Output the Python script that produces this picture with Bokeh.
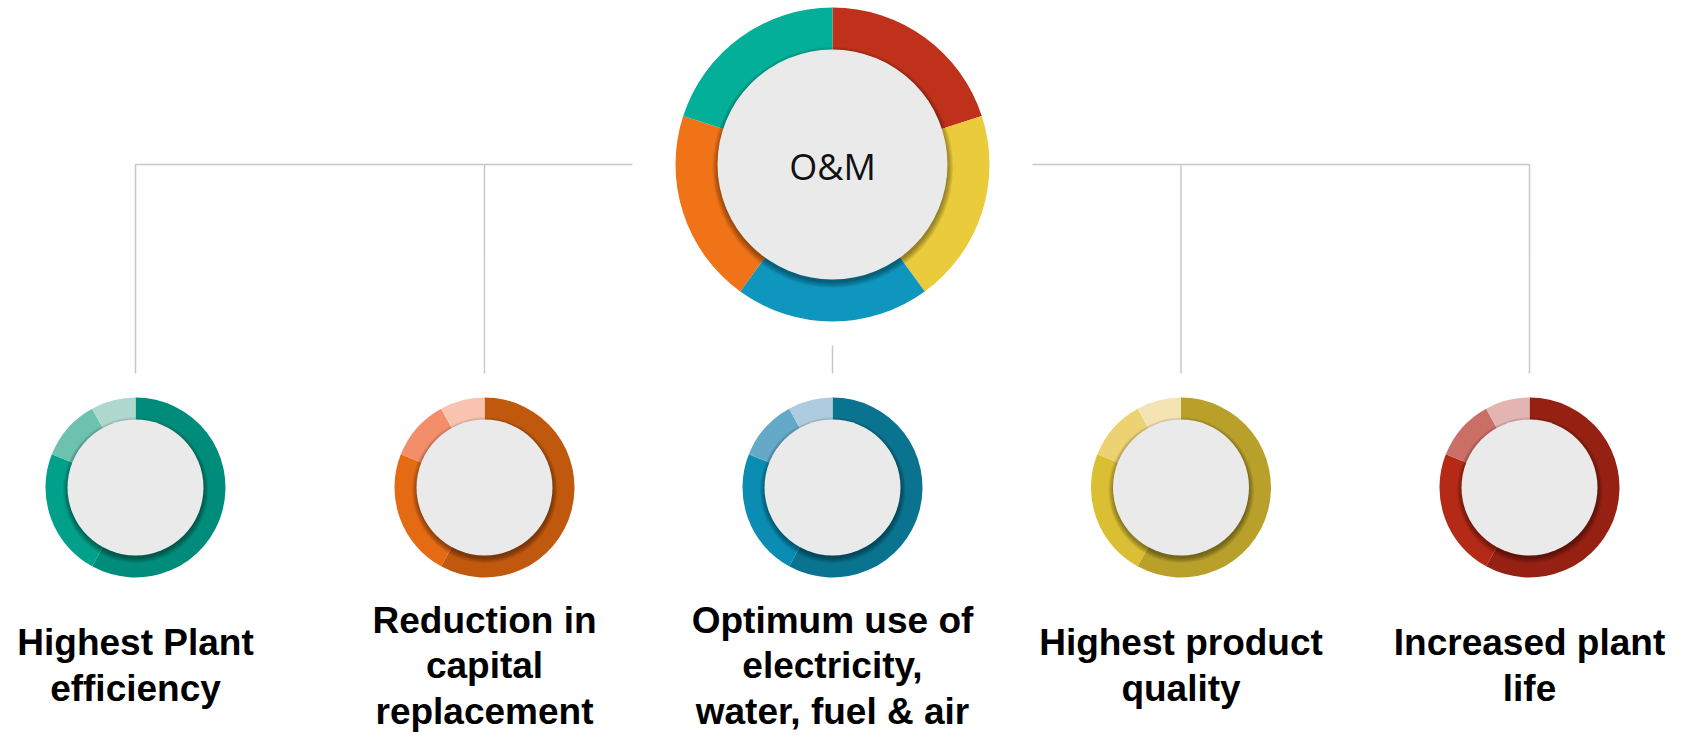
from bokeh.plotting import figure
from bokeh.models import Range1d, ColumnDataSource
from bokeh.core.properties import value
from bokeh.embed import file_html
from bokeh.resources import INLINE

# ---------------- data ----------------
center_label = "O&M"
main_values = [20, 20, 20, 20, 20]  # clockwise from top
main_colors = ["#BF311A", "#E9CB3B", "#0E96BE", "#F07318", "#04AF99"]

labels = [
    ["Highest Plant", "efficiency"],
    ["Reduction in", "capital", "replacement"],
    ["Optimum use of", "electricity,", "water, fuel & air"],
    ["Highest product", "quality"],
    ["Increased plant", "life"],
]
small_values = [58, 23, 11, 8]  # clockwise from top
small_colors = [
    ["#008C7A", "#00A08A", "#6CC1AF", "#AED8CE"],
    ["#C0580E", "#E56A14", "#F48D6A", "#F9C3B1"],
    ["#0A7390", "#0B8DB3", "#65A9C9", "#AECCE0"],
    ["#B8A02A", "#DABE33", "#EDD273", "#F4E4B4"],
    ["#962012", "#B52A16", "#CB6F66", "#E3B4B1"],
]

# ---------------- layout ----------------
W, H = 1683, 749
PW, PH = W - 16, H - 16


def Y(sy):
    return H - sy


p = figure(width=PW, height=PH, output_backend="svg", toolbar_location=None,
           x_range=Range1d(0, PW), y_range=Range1d(H - PH, H), min_border=0)
p.axis.visible = False
p.grid.visible = False
p.outline_line_color = None
p.background_fill_color = "white"
p.border_fill_color = "white"

LINE = "#C8C8C8"
main_cx, main_cy = 832, 164
main_ro, main_ri = 157, 115
small_cy = 487
small_ro, small_ri = 90, 68
small_cx = [135, 484, 832, 1180.5, 1529]

# connectors
p.line([small_cx[0], main_cx - main_ro - 43], [Y(main_cy)] * 2, line_color=LINE, line_width=1.5)
p.line([main_cx + main_ro + 43, small_cx[-1]], [Y(main_cy)] * 2, line_color=LINE, line_width=1.5)
for i, cx in enumerate(small_cx):
    if i == 2:
        p.line([cx, cx], [Y(345), Y(373)], line_color=LINE, line_width=1.5)
    else:
        p.line([cx, cx], [Y(main_cy), Y(373)], line_color=LINE, line_width=1.5)


def donut(cx, cy, ro, ri, vals, cols, shadow_scale):
    total = float(sum(vals))
    starts, ends = [], []
    acc = 0.0
    for v in vals:
        starts.append(90 - acc / total * 360)
        acc += v
        ends.append(90 - acc / total * 360)
    src = ColumnDataSource(dict(x=[cx] * len(vals), y=[Y(cy)] * len(vals),
                                s=starts, e=ends, c=cols))
    p.annular_wedge(x="x", y="y", inner_radius=ri - 2, outer_radius=ro,
                    start_angle="s", end_angle="e", start_angle_units="deg",
                    end_angle_units="deg", direction="clock", fill_color="c",
                    line_color=None, source=src)
    # soft drop shadow of the inner disc
    for k in range(7):
        p.circle(x=cx + 0.3 * shadow_scale, y=Y(cy) - 3 * shadow_scale,
                 radius=ri + k * 0.9 * shadow_scale,
                 fill_color="black", fill_alpha=0.06, line_color=None)
    p.circle(x=cx, y=Y(cy), radius=ri, fill_color="#EAEAEA", line_color=None)


donut(main_cx, main_cy, main_ro, main_ri, main_values, main_colors, 1.0)
p.text(x=[main_cx], y=[Y(166)], text=[center_label], text_font=value("Open Sans"),
       text_font_size="36px", text_color="#111111", text_align="center",
       text_baseline="middle")

for i, cx in enumerate(small_cx):
    donut(cx, small_cy, small_ro, small_ri, small_values, small_colors[i], 0.9)
    lines = labels[i]
    n = len(lines)
    spacing = 45.5
    ys = [665 + (j - (n - 1) / 2) * spacing for j in range(n)]
    p.text(x=[cx] * n, y=[Y(v) for v in ys], text=lines,
           text_font=value("Liberation Sans"), text_font_style="bold",
           text_font_size="37px", text_color="#000000", text_align="center",
           text_baseline="middle")

open("out.html", "w").write(file_html(p, INLINE))
